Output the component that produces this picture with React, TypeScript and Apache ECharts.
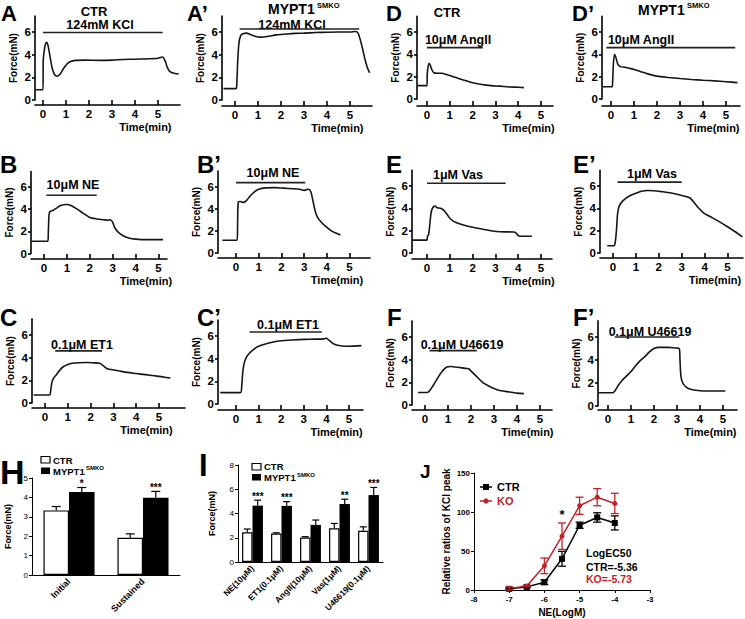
import React, { useEffect, useRef } from "react";
import * as echarts from "echarts";

const FONT = "'Liberation Sans', Arial, Helvetica, sans-serif";
const NARROW = "'Liberation Sans Narrow', 'Arial Narrow', 'Liberation Sans', Arial, sans-serif";
const RED = "#c42127";

// ---------- tick values ----------
const timeTicks = [0, 1, 2, 3, 4, 5];
const forceTicks = [0, 2, 4, 6];
const Y_TOP = 7.4;

// ---------- force traces: [time (min), force (mN)] ----------
const traceA = [[-0.3,0.9],[0,0.9],[0.01,3.5],[0.05,4.3],[0.1,4.9],[0.16,5.1],[0.22,4.8],[0.3,3.9],[0.4,2.8],[0.5,2.25],[0.6,2.1],[0.75,2.3],[0.9,2.8],[1.05,3.2],[1.2,3.4],[1.4,3.5],[1.8,3.52],[2.5,3.5],[3,3.52],[3.5,3.58],[4,3.6],[4.5,3.63],[5,3.68],[5.2,3.8],[5.3,3.5],[5.4,2.9],[5.5,2.55],[5.65,2.38],[5.9,2.3]];
const traceA2 = [[-0.5,1.0],[0.05,1.0],[0.08,1.5],[0.12,3.5],[0.17,5.0],[0.25,5.7],[0.35,5.85],[0.5,5.9],[0.7,5.75],[0.9,5.6],[1.1,5.55],[1.4,5.6],[1.8,5.75],[2.2,5.82],[2.6,5.88],[3,5.9],[3.5,5.95],[4,5.98],[4.5,6.0],[5,6.0],[5.25,6.05],[5.35,5.9],[5.45,5.3],[5.55,4.5],[5.65,3.6],[5.75,2.9],[5.85,2.4]];
const traceD = [[-0.4,1.2],[0,1.2],[0.01,2.2],[0.05,2.9],[0.1,3.2],[0.15,3.0],[0.22,2.6],[0.3,2.35],[0.45,2.3],[0.65,2.3],[0.85,2.2],[1.0,2.1],[1.3,1.9],[1.6,1.7],[2.0,1.45],[2.4,1.3],[2.8,1.2],[3.2,1.15],[3.6,1.08],[4.0,1.05],[4.25,1.02]];
const traceD2 = [[-0.35,1.1],[0.05,1.1],[0.07,1.5],[0.1,3.0],[0.15,4.0],[0.2,3.8],[0.3,3.1],[0.4,2.9],[0.6,2.85],[0.8,2.75],[1.0,2.65],[1.3,2.45],[1.6,2.25],[2.0,2.05],[2.5,1.93],[3.0,1.83],[3.5,1.75],[4.0,1.68],[4.5,1.62],[5.0,1.55],[5.5,1.47]];
const traceB = [[-0.55,1.1],[0.17,1.1],[0.19,2.0],[0.22,3.5],[0.27,3.8],[0.4,3.9],[0.55,4.1],[0.7,4.3],[0.85,4.4],[1.0,4.42],[1.2,4.3],[1.45,4.0],[1.7,3.65],[2.0,3.25],[2.3,3.12],[2.6,3.05],[2.8,3.0],[2.9,3.05],[3.0,2.8],[3.1,2.3],[3.25,1.9],[3.45,1.6],[3.7,1.4],[4.0,1.3],[4.5,1.25],[5.0,1.25],[5.2,1.25]];
const traceB2 = [[-0.6,1.15],[0.05,1.15],[0.07,2.5],[0.1,4.6],[0.2,4.65],[0.3,4.55],[0.45,4.7],[0.6,5.1],[0.8,5.5],[1.0,5.75],[1.3,5.88],[1.7,5.9],[2.1,5.85],[2.5,5.8],[2.8,5.75],[3.0,5.65],[3.1,5.72],[3.2,5.75],[3.3,5.5],[3.4,4.6],[3.5,3.7],[3.6,3.2],[3.75,2.8],[3.95,2.4],[4.2,2.0],[4.4,1.8],[4.6,1.62]];
const traceE = [[-0.65,1.15],[0,1.15],[0.02,1.5],[0.07,1.65],[0.12,2.5],[0.18,3.6],[0.25,4.05],[0.35,4.2],[0.45,4.05],[0.6,4.0],[0.75,3.8],[0.9,3.4],[1.05,3.0],[1.3,2.7],[1.6,2.5],[2.0,2.3],[2.4,2.15],[2.8,2.0],[3.2,1.9],[3.8,1.88],[3.9,1.8],[4.0,1.55],[4.1,1.5],[4.6,1.5]];
const traceE2 = [[-0.25,0.65],[0.05,0.65],[0.1,1.0],[0.15,2.0],[0.2,3.5],[0.27,4.2],[0.4,4.6],[0.6,4.95],[0.8,5.2],[1.0,5.35],[1.2,5.5],[1.5,5.6],[1.8,5.58],[2.1,5.5],[2.4,5.42],[2.7,5.3],[3.0,5.15],[3.35,4.95],[3.55,4.5],[3.75,4.0],[3.95,3.6],[4.3,3.2],[4.6,2.85],[5.0,2.35],[5.3,1.95],[5.65,1.45]];
const traceC = [[-0.5,0.7],[0.2,0.7],[0.25,1.1],[0.3,1.8],[0.38,2.2],[0.5,2.5],[0.65,2.9],[0.8,3.2],[1.0,3.4],[1.2,3.5],[1.5,3.55],[1.8,3.58],[2.1,3.55],[2.4,3.5],[2.55,3.3],[2.7,3.05],[2.9,2.95],[3.2,2.85],[3.6,2.7],[4.0,2.6],[4.4,2.5],[4.8,2.4],[5.2,2.3],[5.5,2.2]];
const traceC2 = [[-0.7,1.0],[0.2,1.0],[0.25,1.5],[0.3,2.8],[0.35,3.5],[0.45,4.1],[0.6,4.5],[0.8,4.85],[1.0,5.1],[1.3,5.3],[1.6,5.45],[2.0,5.58],[2.5,5.65],[3.0,5.7],[3.5,5.72],[3.9,5.75],[4.0,5.8],[4.1,5.65],[4.25,5.4],[4.45,5.2],[4.7,5.12],[5.0,5.1],[5.55,5.15]];
const traceF = [[-0.3,1.1],[0.1,1.1],[0.2,1.25],[0.35,1.7],[0.5,2.2],[0.65,2.7],[0.8,3.1],[0.95,3.35],[1.1,3.4],[1.3,3.35],[1.55,3.3],[1.8,3.22],[1.9,3.2],[2.05,2.9],[2.25,2.5],[2.5,2.0],[2.75,1.7],[3.0,1.45],[3.3,1.25],[3.7,1.15],[4.0,1.05],[4.3,1.0]];
const traceF2 = [[-0.42,1.15],[0.2,1.15],[0.3,1.3],[0.45,1.8],[0.6,2.2],[0.8,2.6],[1.0,3.0],[1.2,3.5],[1.4,3.95],[1.6,4.3],[1.8,4.7],[2.0,5.0],[2.2,5.1],[2.6,5.1],[2.9,5.05],[3.1,5.0],[3.13,4.0],[3.17,2.6],[3.25,2.0],[3.4,1.65],[3.6,1.45],[3.9,1.35],[4.4,1.3],[4.8,1.3],[5.1,1.3]];

// ---------- drug application bars: [start (min), end (min), level (mN)] ----------
const drugA = [0, 5.2, 5.95];
const drugA2 = [0.2, 5.4, 6.27];
const drugD = [0, 2.45, 4.6];
const drugD2 = [-0.2, 5.4, 4.6];
const drugB = [0.1, 2.3, 5.25];
const drugB2 = [0, 3.05, 6.35];
const drugE = [0, 3.45, 6.25];
const drugE2 = [0.2, 3.0, 6.35];
const drugC = [0.45, 2.5, 4.6];
const drugC2 = [0.6, 3.8, 6.35];
const drugF = [0.2, 2.25, 4.8];
const drugF2 = [0.3, 3.1, 6.0];

const drugLabels = {
  A: "124mM KCl", A2: "124mM KCl", D: "10μM AngII", D2: "10μM AngII",
  B: "10μM NE", B2: "10μM NE", E: "1μM Vas", E2: "1μM Vas",
  C: "0.1μM ET1", C2: "0.1μM ET1", F: "0.1μM U46619", F2: "0.1μM U46619",
};

// ---------- H ----------
const hCats = ["Initial", "Sustained"];
const hCtr = [3.33, 1.92];
const hCtrErr = [0.2, 0.2];
const hKo = [4.28, 3.98];
const hKoErr = [0.23, 0.33];
const hStars = ["*", "***"];

// ---------- I ----------
const iCats = ["NE(10μM)", "ET1(0.1μM)", "AngII(10μM)", "Vas(1μM)", "U46619(0.1μM)"];
const iCtr = [2.45, 2.35, 2.02, 2.78, 2.58];
const iCtrErr = [0.27, 0.06, 0.07, 0.4, 0.32];
const iKo = [4.65, 4.63, 3.06, 4.78, 5.52];
const iKoErr = [0.45, 0.35, 0.4, 0.4, 0.63];
const iStars = ["***", "***", "", "**", "***"];

// ---------- J ----------
const jX = [-7, -6.5, -6, -5.5, -5, -4.5, -4];
const jCtr = [1.5, 4, 10, 40, 83, 93, 86];
const jCtrErr = [1, 1, 3, 9.5, 4, 6, 9];
const jKo = [2, 5, 31, 69, 108, 119, 111];
const jKoErr = [2, 1, 10, 17, 11, 11, 13];
const jStars = ["", "", "", "*", "", "", ""];

// ---------- panel list & layout ----------
const tracePanels = [
  { id: "A", trace: traceA, drug: drugA },
  { id: "A2", trace: traceA2, drug: drugA2 },
  { id: "D", trace: traceD, drug: drugD },
  { id: "D2", trace: traceD2, drug: drugD2 },
  { id: "B", trace: traceB, drug: drugB },
  { id: "B2", trace: traceB2, drug: drugB2 },
  { id: "E", trace: traceE, drug: drugE },
  { id: "E2", trace: traceE2, drug: drugE2 },
  { id: "C", trace: traceC, drug: drugC },
  { id: "C2", trace: traceC2, drug: drugC2 },
  { id: "F", trace: traceF, drug: drugF },
  { id: "F2", trace: traceF2, drug: drugF2 },
];

const layout: Record<string, any> = {
  A:  { left: 35,  x0: 43,  ppm: 23,   right: 180, y0: 100,   y6: 32,    axisY: 105, letter: "A",  lx: 1,   ly: 13,  ls: 22, tx: 100, ty: 25 },
  A2: { left: 222, x0: 235, ppm: 23,   right: 372, y0: 100,   y6: 32,    axisY: 106, letter: "A’", lx: 187, ly: 13,  ls: 22, tx: 292, ty: 24.5 },
  D:  { left: 417, x0: 427, ppm: 22.8, right: 553, y0: 99,    y6: 32,    axisY: 106, letter: "D",  lx: 386, ly: 13,  ls: 22, tx: 458, ty: 40 },
  D2: { left: 602, x0: 611, ppm: 23,   right: 740, y0: 99,    y6: 32,    axisY: 106, letter: "D’", lx: 572, ly: 13,  ls: 22, tx: 641, ty: 40 },
  B:  { left: 31,  x0: 44,  ppm: 22.9, right: 167, y0: 253.5, y6: 187,   axisY: 259, letter: "B",  lx: 0,   ly: 164, ls: 24, tx: 73,  ty: 185 },
  B2: { left: 218, x0: 236, ppm: 22.7, right: 370, y0: 253,   y6: 186.5, axisY: 258, letter: "B’", lx: 197, ly: 164, ls: 24, tx: 273, ty: 173 },
  E:  { left: 412, x0: 427, ppm: 22.8, right: 552, y0: 253,   y6: 186,   axisY: 259, letter: "E",  lx: 386, ly: 164, ls: 24, tx: 458, ty: 175 },
  E2: { left: 600, x0: 613, ppm: 22.9, right: 743, y0: 253,   y6: 186,   axisY: 258, letter: "E’", lx: 573, ly: 164, ls: 24, tx: 652, ty: 174 },
  C:  { left: 32,  x0: 45,  ppm: 22.8, right: 185, y0: 403,   y6: 335,   axisY: 408, letter: "C",  lx: 0,   ly: 317, ls: 24, tx: 82,  ty: 345 },
  C2: { left: 218, x0: 236, ppm: 22.6, right: 363, y0: 404,   y6: 336,   axisY: 410, letter: "C’", lx: 197, ly: 317, ls: 24, tx: 288, ty: 325 },
  F:  { left: 412, x0: 425, ppm: 23,   right: 552, y0: 405,   y6: 337,   axisY: 410, letter: "F",  lx: 387, ly: 317, ls: 24, tx: 462, ty: 345 },
  F2: { left: 598, x0: 608, ppm: 23,   right: 737, y0: 406,   y6: 337,   axisY: 410, letter: "F’", lx: 573, ly: 317, ls: 24, tx: 650, ty: 332 },
};

function txt(text: string, x: number, y: number, size: number, o: any = {}) {
  const align = o.align || "center";
  return {
    type: "text", x, y, silent: true, rotation: o.rotation || 0,
    style: {
      text, fill: o.color || "#000", fontSize: size, fontWeight: o.weight || "bold",
      fontFamily: o.family || FONT, textAlign: align, align,
      textVerticalAlign: "middle", verticalAlign: "middle",
    },
  };
}

function buildOption() {
  const grid: any[] = [];
  const xAxis: any[] = [];
  const yAxis: any[] = [];
  const series: any[] = [];
  const g: any[] = [];

  const axisLineStyle = { color: "#000", width: 1.6 };

  tracePanels.forEach((p, i) => {
    const L = layout[p.id];
    const ppu = (L.y0 - L.y6) / 6;
    const top = L.y0 - Y_TOP * ppu;
    grid.push({ left: L.left, top, width: L.right - L.left, height: L.y0 - top });
    xAxis.push({
      gridIndex: i, type: "value",
      min: (L.left - L.x0) / L.ppm, max: (L.right - L.x0) / L.ppm,
      offset: L.axisY - L.y0,
      axisLine: { show: true, onZero: false, lineStyle: axisLineStyle },
      axisTick: { show: true, inside: true, length: 5, customValues: timeTicks, lineStyle: axisLineStyle },
      axisLabel: { customValues: timeTicks, color: "#000", fontSize: 11.5, fontWeight: "bold", margin: 3 },
      splitLine: { show: false },
    });
    yAxis.push({
      gridIndex: i, type: "value", min: 0, max: Y_TOP,
      axisLine: { show: true, onZero: false, lineStyle: axisLineStyle },
      axisTick: { show: true, length: 3, customValues: forceTicks, lineStyle: axisLineStyle },
      axisLabel: { customValues: forceTicks, color: "#000", fontSize: 11.5, fontWeight: "bold", margin: 4 },
      splitLine: { show: false },
      name: "Force(mN)", nameLocation: "middle", nameGap: 17,
      nameTextStyle: { color: "#000", fontSize: 10, fontWeight: "bold", fontFamily: NARROW },
    });
    series.push({
      type: "line", xAxisIndex: i, yAxisIndex: i, data: p.trace, showSymbol: false,
      smooth: 0.25, silent: true, lineStyle: { color: "#151515", width: 1.6 },
    });
    series.push({
      type: "line", xAxisIndex: i, yAxisIndex: i, showSymbol: false, silent: true,
      data: [[p.drug[0], p.drug[2]], [p.drug[1], p.drug[2]]],
      lineStyle: { color: "#222", width: 1.6 },
    });
    g.push(txt(L.letter, L.lx, L.ly, L.ls, { align: "left" }));
    g.push(txt((drugLabels as any)[p.id], L.tx, L.ty, 12.5));
    g.push(txt("Time(min)", L.x0 + 4.45 * L.ppm, L.axisY + 22, 11));
  });

  // row titles
  g.push(txt("CTR", 94, 11, 13));
  g.push(txt("CTR", 447, 12, 13));
  g.push(txt("MYPT1", 268, 9, 14, { align: "left" }));
  g.push(txt("SMKO", 317, 5, 7.5, { align: "left" }));
  g.push(txt("MYPT1", 638, 9.5, 14, { align: "left" }));
  g.push(txt("SMKO", 687, 5.5, 7.5, { align: "left" }));

  // ---------- bar panels H & I ----------
  const barPanel = (gi: number, rect: any, cats: string[], ctr: number[], ctrErr: number[], ko: number[], koErr: number[], stars: string[], yMax: number, yInt: number, gap: number, cap: number, labelSize: number, nameGap: number) => {
    grid.push(rect);
    xAxis.push({
      gridIndex: gi, type: "category", data: cats,
      axisLine: { show: true, lineStyle: { color: "#000", width: 1 } },
      axisTick: { show: false },
      axisLabel: { interval: 0, rotate: 45, color: "#000", fontSize: labelSize, fontWeight: "bold", margin: 5 },
    });
    yAxis.push({
      gridIndex: gi, type: "value", min: 0, max: yMax, interval: yInt,
      axisLine: { show: true, lineStyle: { color: "#000", width: 1 } },
      axisTick: { show: true, length: 3, lineStyle: { color: "#000", width: 1 } },
      axisLabel: { color: "#000", fontSize: 8, margin: 4 },
      splitLine: { show: false },
      name: "Force(mN)", nameLocation: "middle", nameGap,
      nameTextStyle: { color: "#000", fontSize: 9, fontWeight: "bold" },
    });
    const gapStr = Math.round(gap * 100) + "%";
    series.push({
      type: "bar", name: "CTR", xAxisIndex: gi, yAxisIndex: gi, data: ctr, silent: true,
      barGap: "0%", barCategoryGap: gapStr,
      itemStyle: { color: "#fff", borderColor: "#000", borderWidth: 1.2 },
    });
    series.push({
      type: "bar", name: "KO", xAxisIndex: gi, yAxisIndex: gi, data: ko, silent: true,
      barGap: "0%", barCategoryGap: gapStr,
      itemStyle: { color: "#000" },
    });
    const mk = (vals: number[], errs: number[], side: number, st: string[] | null) => ({
      type: "custom", xAxisIndex: gi, yAxisIndex: gi, silent: true, z: 5,
      data: vals.map((v, i) => [i, v]),
      renderItem: (params: any, api: any) => {
        const i = params.dataIndex;
        const v = api.value(1);
        const e = errs[i];
        const p0 = api.coord([i, v]);
        const p1 = api.coord([i, v + e]);
        const band = api.size([1, 0])[0];
        const bw = (band * (1 - gap)) / 2;
        const cx = p0[0] + (side * bw) / 2;
        const ch: any[] = [
          { type: "line", shape: { x1: cx, y1: p0[1], x2: cx, y2: p1[1] }, style: { stroke: "#000", lineWidth: 1.2 } },
          { type: "line", shape: { x1: cx - cap, y1: p1[1], x2: cx + cap, y2: p1[1] }, style: { stroke: "#000", lineWidth: 1.2 } },
        ];
        if (st && st[i]) {
          ch.push({
            type: "text",
            style: { text: st[i], x: cx, y: p1[1] + 1, fill: "#000", fontSize: 10, fontWeight: "bold", fontFamily: FONT, textAlign: "center", align: "center", textVerticalAlign: "bottom", verticalAlign: "bottom" },
          });
        }
        return { type: "group", children: ch };
      },
    });
    series.push(mk(ctr, ctrErr, -1, null));
    series.push(mk(ko, koErr, 1, stars));
  };

  barPanel(12, { left: 32, top: 478, width: 148, height: 97 }, hCats, hCtr, hCtrErr, hKo, hKoErr, hStars, 5, 1, 0.31, 4.5, 9, 20);
  barPanel(13, { left: 238, top: 465, width: 145, height: 97 }, iCats, iCtr, iCtrErr, iKo, iKoErr, iStars, 8, 2, 0.28, 3.5, 8.5, 22);

  // H legend
  g.push({ type: "rect", shape: { x: 41, y: 456.5, width: 9, height: 6.5 }, style: { fill: "#fff", stroke: "#000", lineWidth: 1.2 }, silent: true });
  g.push({ type: "rect", shape: { x: 41, y: 467.5, width: 9, height: 6.5 }, style: { fill: "#000" }, silent: true });
  g.push(txt("CTR", 53, 460, 9.5, { align: "left" }));
  g.push(txt("MYPT1", 53, 471, 9.5, { align: "left" }));
  g.push(txt("SMKO", 86, 468, 6, { align: "left" }));
  // I legend
  g.push({ type: "rect", shape: { x: 252, y: 463.5, width: 9, height: 6.5 }, style: { fill: "#fff", stroke: "#000", lineWidth: 1.2 }, silent: true });
  g.push({ type: "rect", shape: { x: 252, y: 474, width: 9, height: 6.5 }, style: { fill: "#000" }, silent: true });
  g.push(txt("CTR", 264, 466.5, 9.5, { align: "left" }));
  g.push(txt("MYPT1", 264, 477.5, 9.5, { align: "left" }));
  g.push(txt("SMKO", 297, 474.5, 6, { align: "left" }));

  g.push(txt("H", 0, 472, 34, { align: "left" }));
  g.push(txt("I", 199, 465, 31, { align: "left" }));
  g.push(txt("J", 420, 471, 19, { align: "left" }));

  // ---------- J ----------
  const gj = 14;
  grid.push({ left: 474, top: 473, width: 176, height: 117 });
  xAxis.push({
    gridIndex: gj, type: "value", min: -8, max: -3, interval: 1,
    axisLine: { show: true, onZero: false, lineStyle: { color: "#000", width: 1 } },
    axisTick: { show: true, length: 3, lineStyle: { color: "#000", width: 1 } },
    axisLabel: { color: "#000", fontSize: 8, fontWeight: "bold", margin: 5 },
    splitLine: { show: false },
    name: "NE(LogM)", nameLocation: "middle", nameGap: 17,
    nameTextStyle: { color: "#000", fontSize: 10, fontWeight: "bold" },
  });
  yAxis.push({
    gridIndex: gj, type: "value", min: 0, max: 150, interval: 50,
    axisLine: { show: true, onZero: false, lineStyle: { color: "#000", width: 1 } },
    axisTick: { show: true, length: 3, lineStyle: { color: "#000", width: 1 } },
    axisLabel: { color: "#000", fontSize: 8, fontWeight: "bold", margin: 4 },
    splitLine: { show: false },
    name: "Relative ratios of KCl peak", nameLocation: "middle", nameGap: 23,
    nameTextStyle: { color: "#000", fontSize: 10, fontWeight: "bold" },
  });
  const jLine = (vals: number[], color: string, symbol: string, size: number) => ({
    type: "line", xAxisIndex: gj, yAxisIndex: gj, silent: true,
    data: jX.map((x, i) => [x, vals[i]]),
    symbol, symbolSize: size, showSymbol: true,
    lineStyle: { color, width: 1.5 }, itemStyle: { color },
  });
  const jErr = (vals: number[], errs: number[], color: string, st: string[] | null) => ({
    type: "custom", xAxisIndex: gj, yAxisIndex: gj, silent: true, z: 4,
    data: jX.map((x, i) => [x, vals[i]]),
    renderItem: (params: any, api: any) => {
      const i = params.dataIndex;
      const x = api.value(0);
      const y = api.value(1);
      const e = errs[i];
      const pt = api.coord([x, y + e]);
      const pb = api.coord([x, y - e]);
      const cap = 4;
      const s = { stroke: color, lineWidth: 1.3 };
      const ch: any[] = [
        { type: "line", shape: { x1: pt[0], y1: pt[1], x2: pb[0], y2: pb[1] }, style: s },
        { type: "line", shape: { x1: pt[0] - cap, y1: pt[1], x2: pt[0] + cap, y2: pt[1] }, style: s },
        { type: "line", shape: { x1: pb[0] - cap, y1: pb[1], x2: pb[0] + cap, y2: pb[1] }, style: s },
      ];
      if (st && st[i]) {
        ch.push({
          type: "text",
          style: { text: st[i], x: pt[0], y: pt[1] - 2, fill: "#000", fontSize: 13, fontWeight: "bold", fontFamily: FONT, textAlign: "center", align: "center", textVerticalAlign: "bottom", verticalAlign: "bottom" },
        });
      }
      return { type: "group", children: ch };
    },
  });
  series.push(jErr(jCtr, jCtrErr, "#000", null));
  series.push(jErr(jKo, jKoErr, RED, jStars));
  series.push(jLine(jCtr, "#000", "rect", 6));
  series.push(jLine(jKo, RED, "circle", 5));

  // J legend & EC50 text
  g.push({ type: "line", shape: { x1: 480, y1: 487, x2: 492, y2: 487 }, style: { stroke: "#000", lineWidth: 1.5 }, silent: true });
  g.push({ type: "rect", shape: { x: 483, y: 484, width: 6, height: 6 }, style: { fill: "#000" }, silent: true });
  g.push(txt("CTR", 497, 487, 11, { align: "left" }));
  g.push({ type: "line", shape: { x1: 480, y1: 501, x2: 492, y2: 501 }, style: { stroke: RED, lineWidth: 1.5 }, silent: true });
  g.push({ type: "circle", shape: { cx: 486, cy: 501, r: 2.6 }, style: { fill: RED }, silent: true });
  g.push(txt("KO", 497, 501, 11, { align: "left", color: RED }));
  g.push(txt("LogEC50", 586, 553, 10.5, { align: "left" }));
  g.push(txt("CTR=-5.36", 586, 567, 10.5, { align: "left" }));
  g.push(txt("KO=-5.73", 586, 579, 10.5, { align: "left", color: RED }));

  return {
    animation: false,
    backgroundColor: "#fff",
    textStyle: { fontFamily: FONT },
    grid, xAxis, yAxis, series,
    graphic: { elements: g },
  };
}

export default function App() {
  const ref = useRef<HTMLDivElement>(null);
  useEffect(() => {
    if (!ref.current) return;
    const chart = echarts.init(ref.current, null, { renderer: "svg" });
    chart.setOption(buildOption() as any);
    return () => chart.dispose();
  }, []);
  return <div ref={ref} style={{ position: "absolute", left: 0, top: 0, width: 745, height: 619 }} />;
}
